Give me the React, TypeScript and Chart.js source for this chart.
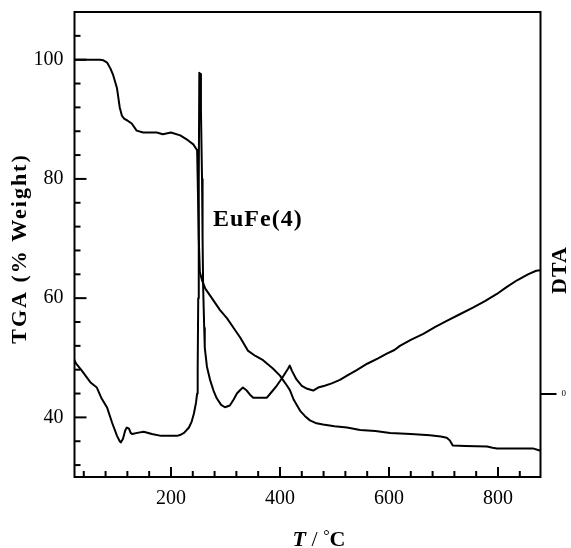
import React, { useEffect, useRef } from 'react';
import { Chart, registerables } from 'chart.js';

Chart.register(...registerables);

// TGA curve (temperature °C, weight %)
const tgaT = [23, 70, 76, 83, 89, 94, 101, 106, 110, 114, 120, 128, 137, 149, 174, 185, 200, 217, 231, 241, 248, 249, 251, 253, 257, 263, 275, 290, 303, 315, 327, 341, 355, 369, 387, 400, 406, 413, 418, 425, 437, 446, 455, 467, 479, 500, 523, 547, 575, 602, 640, 675, 695, 706, 712, 717, 740, 780, 790, 798, 864, 878];
const tgaW = [100, 100, 99.9, 99.5, 98.5, 97.4, 95.2, 92, 90.6, 90.1, 89.8, 89.3, 88.1, 87.8, 87.8, 87.5, 87.8, 87.3, 86.5, 85.8, 84.8, 80, 70, 64.4, 63, 61.6, 60, 58, 56.6, 55, 53.4, 51.2, 50.3, 49.6, 48.2, 47, 46.2, 45.3, 44.6, 43, 41.1, 40.2, 39.5, 39, 38.8, 38.5, 38.3, 37.9, 37.7, 37.4, 37.2, 37, 36.8, 36.6, 36.1, 35.3, 35.2, 35.1, 34.9, 34.8, 34.8, 34.4];

// DTA curve (temperature °C, signal drawn in left-axis units)
const dtaT = [23, 26, 35, 53, 64, 72, 83, 92, 101, 106, 108, 112, 116, 119, 123, 126, 129, 138, 150, 165, 182, 211, 218, 224, 233, 238, 242, 246, 248, 249, 250, 251, 252, 254, 255, 257, 258, 259, 261, 262, 266, 272, 278, 284, 292, 299, 308, 315, 321, 327, 332, 339, 345, 351, 376, 385, 394, 404, 410, 415, 418, 422, 430, 440, 450, 461, 470, 482, 495, 510, 523, 540, 560, 580, 596, 610, 620, 640, 663, 685, 706, 730, 754, 776, 798, 815, 835, 855, 870, 878];
const dtaV = [49.6, 49, 48, 45.8, 45, 43.3, 41.6, 39.1, 36.9, 36, 35.8, 36.4, 37.8, 38.3, 38.1, 37.4, 37.2, 37.4, 37.6, 37.2, 36.9, 36.9, 37.1, 37.4, 38.3, 39.3, 40.6, 42.5, 44, 48, 60, 80, 97.8, 97.6, 91.5, 80, 70, 62, 55, 51.7, 48.5, 46.2, 44.5, 43.2, 42.1, 41.7, 42, 43, 44, 44.6, 45, 44.5, 43.8, 43.3, 43.3, 44.3, 45.3, 46.6, 47.5, 48.2, 48.7, 47.8, 46.4, 45.3, 44.8, 44.5, 45, 45.3, 45.7, 46.3, 47, 47.9, 49, 49.9, 50.7, 51.3, 52, 53, 54, 55.2, 56.2, 57.3, 58.4, 59.5, 60.7, 61.8, 63, 64, 64.6, 64.7];

const xLabelTicks = [200, 400, 600, 800];
const yLabelTicks = [40, 60, 80, 100];
const dtaTicks = [0];
const dtaTickLabels = ['0'];

const X_MIN = 23, X_MAX = 878, X_STEP = 40;
const Y_MIN = 30, Y_MAX = 108, Y_STEP = 4;
const DTA_MIN = -14, DTA_MAX = 64;

const SERIF = '"Liberation Serif", "Times New Roman", serif';

const framePlugin = {
  id: 'frame',
  afterDraw(chart: any) {
    const { ctx, chartArea: a, scales } = chart;
    ctx.save();
    ctx.strokeStyle = '#000';
    ctx.lineWidth = 2;
    ctx.strokeRect(a.left, a.top, a.right - a.left, a.bottom - a.top);
    const xs = scales.x;
    xs.ticks.forEach((t: any) => {
      const px = xs.getPixelForValue(t.value);
      const len = xLabelTicks.includes(t.value) ? 10 : 6;
      ctx.beginPath();
      ctx.moveTo(px, a.bottom);
      ctx.lineTo(px, a.bottom - len);
      ctx.stroke();
    });
    const ys = scales.y;
    ys.ticks.forEach((t: any) => {
      const py = ys.getPixelForValue(t.value);
      const len = yLabelTicks.includes(t.value) ? 12 : 6;
      ctx.beginPath();
      ctx.moveTo(a.left, py);
      ctx.lineTo(a.left + len, py);
      ctx.stroke();
    });

    ctx.fillStyle = '#000';
    // Left title
    ctx.save();
    ctx.translate(20, (a.top + a.bottom) / 2 + 4);
    ctx.rotate(-Math.PI / 2);
    ctx.font = `bold 22px ${SERIF}`;
    (ctx as any).letterSpacing = '2px';
    ctx.textAlign = 'center';
    ctx.textBaseline = 'middle';
    ctx.fillText('TGA (% Weight)', 0, 0);
    ctx.restore();

    // Right title
    ctx.save();
    ctx.translate(560, 270);
    ctx.rotate(-Math.PI / 2);
    ctx.font = `bold 22px ${SERIF}`;
    (ctx as any).letterSpacing = '1px';
    ctx.textAlign = 'center';
    ctx.textBaseline = 'middle';
    ctx.fillText('DTA', 0, 0);
    ctx.restore();

    // Annotation
    ctx.save();
    ctx.font = `bold 24px ${SERIF}`;
    (ctx as any).letterSpacing = '1px';
    ctx.textAlign = 'left';
    ctx.textBaseline = 'alphabetic';
    ctx.fillText('EuFe(4)', 213, 226);
    ctx.restore();

    // X title: T / °C
    ctx.save();
    ctx.textBaseline = 'alphabetic';
    ctx.textAlign = 'left';
    const parts = [
      { s: 'T', f: `italic bold 22px ${SERIF}`, dy: 0 },
      { s: ' / ', f: `22px ${SERIF}`, dy: 0 },
      { s: '°', f: `16px ${SERIF}`, dy: -5 },
      { s: 'C', f: `bold 22px ${SERIF}`, dy: 0 },
    ];
    let total = 0;
    parts.forEach((p) => { ctx.font = p.f; total += ctx.measureText(p.s).width; });
    let x = 319 - total / 2;
    const base = 546;
    parts.forEach((p) => {
      ctx.font = p.f;
      ctx.fillText(p.s, x, base + p.dy);
      x += ctx.measureText(p.s).width;
    });
    ctx.restore();

    ctx.restore();
  },
};

export default function App() {
  const ref = useRef<HTMLCanvasElement>(null);

  useEffect(() => {
    if (!ref.current) return;
    const tga = tgaT.map((t, i) => ({ x: t, y: tgaW[i] }));
    const dta = dtaT.map((t, i) => ({ x: t, y: dtaV[i] }));
    const chart = new Chart(ref.current, {
      type: 'line',
      data: {
        datasets: [
          { label: 'TGA', data: tga, borderColor: '#000', borderWidth: 2, pointRadius: 0, tension: 0, fill: false, yAxisID: 'y' },
          { label: 'DTA', data: dta, borderColor: '#000', borderWidth: 2, pointRadius: 0, tension: 0, fill: false, yAxisID: 'y' },
        ],
      },
      options: {
        animation: false,
        responsive: false,
        devicePixelRatio: 1,
        layout: { padding: { top: 12, left: 0, right: 0, bottom: 0 } },
        plugins: { legend: { display: false }, tooltip: { enabled: false } },
        elements: { line: { borderJoinStyle: 'round', borderCapStyle: 'round' } },
        scales: {
          x: {
            type: 'linear',
            min: X_MIN,
            max: X_MAX,
            grid: { display: false, drawTicks: false },
            border: { display: false },
            ticks: {
              stepSize: X_STEP,
              autoSkip: false,
              includeBounds: false,
              maxRotation: 0,
              padding: 10,
              color: '#000',
              font: { family: SERIF, size: 20 },
              callback: (v: any) => (xLabelTicks.includes(Number(v)) ? String(v) : ''),
            },
            afterFit: (s: any) => { s.height = 71; s.paddingLeft = 0; s.paddingRight = 0; },
          },
          y: {
            type: 'linear',
            position: 'left',
            min: Y_MIN,
            max: Y_MAX,
            grid: { display: false, drawTicks: false },
            border: { display: false },
            ticks: {
              stepSize: Y_STEP,
              autoSkip: false,
              includeBounds: false,
              padding: 11,
              color: '#000',
              font: { family: SERIF, size: 20 },
              callback: (v: any) => (yLabelTicks.includes(Number(v)) ? String(v) : ''),
            },
            afterFit: (s: any) => { s.width = 74.5; s.paddingTop = 0; s.paddingBottom = 0; },
          },
          y2: {
            type: 'linear',
            position: 'right',
            min: DTA_MIN,
            max: DTA_MAX,
            grid: { display: true, drawOnChartArea: false, drawTicks: true, tickLength: 16, lineWidth: 2, color: '#000' },
            border: { display: false },
            afterBuildTicks: (s: any) => { s.ticks = dtaTicks.map((v) => ({ value: v })); },
            ticks: {
              autoSkip: false,
              padding: 5,
              color: '#000',
              font: { family: SERIF, size: 9 },
              callback: (v: any) => {
                const i = dtaTicks.indexOf(Number(v));
                return i >= 0 ? dtaTickLabels[i] : '';
              },
            },
            afterFit: (s: any) => { s.width = 30.5; s.paddingTop = 0; s.paddingBottom = 0; },
          },
        },
      },
      plugins: [framePlugin],
    } as any);
    return () => chart.destroy();
  }, []);

  return (
    <div style={{ position: 'fixed', left: 0, top: 0, width: 571, height: 548, background: '#fff' }}>
      <canvas ref={ref} width={571} height={548} />
    </div>
  );
}
